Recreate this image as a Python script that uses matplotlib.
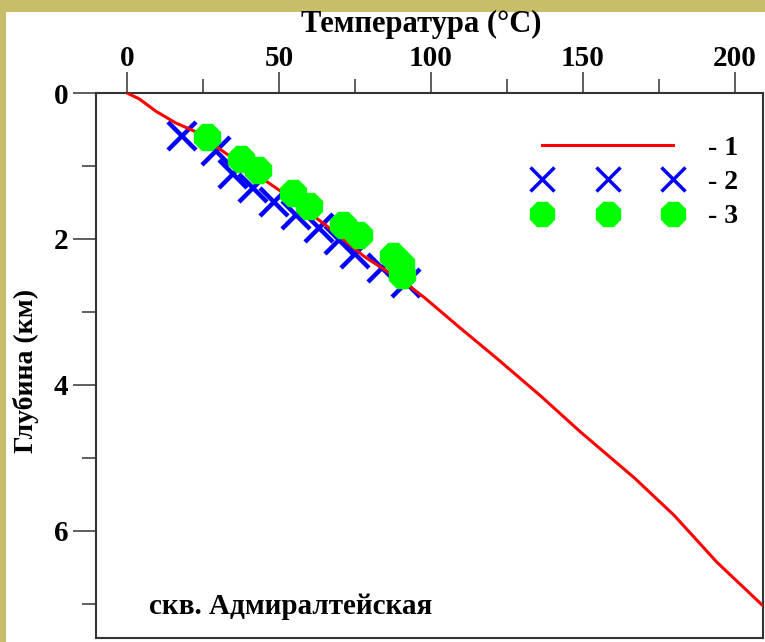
import matplotlib.pyplot as plt
from matplotlib.lines import Line2D
from matplotlib.patches import Rectangle

plt.rcParams["font.family"] = ["Liberation Serif", "DejaVu Serif"]
plt.rcParams["font.weight"] = "bold"

# model geotherm (1)
curve_t = [0, 4, 9.5, 16, 22, 35, 50, 65, 78, 92, 98, 109, 122, 136, 149, 167, 180, 194, 210, 214]
curve_d = [0, 0.08, 0.25, 0.41, 0.52, 0.9, 1.33, 1.8, 2.24, 2.62, 2.81, 3.2, 3.65, 4.15, 4.64, 5.28, 5.79, 6.43, 7.06, 7.2]

# measured temperatures (2)
meas_t = [18.0, 29.4, 35.0, 41.6, 48.3, 55.6, 63.3, 69.7, 75.1, 84.0, 91.9]
meas_d = [0.59, 0.80, 1.11, 1.30, 1.50, 1.67, 1.85, 2.02, 2.20, 2.40, 2.60]

# corrected temperatures (3)
corr_t = [26.4, 37.4, 43.2, 54.5, 60.0, 71.2, 76.4, 87.6, 90.0, 90.4]
corr_d = [0.60, 0.91, 1.05, 1.37, 1.55, 1.81, 1.95, 2.23, 2.34, 2.49]

W, H = 765, 642
fig = plt.figure(figsize=(W / 100, H / 100), dpi=100)
fig.patch.set_facecolor("#C8BD69")
fig.patches.append(Rectangle((6 / W, 0), 1, 1 - 12 / H, transform=fig.transFigure,
                             facecolor="white", edgecolor="none", zorder=-10))

ax = fig.add_axes([96 / W, 1 - 638 / H, 667 / W, 545 / H])
ax.set_zorder(1)
ax.set_facecolor("white")

ax.plot(meas_t, meas_d, linestyle="none", marker="x", ms=20, mew=3.2, color="#0000FF", zorder=2)
ax.plot(curve_t, curve_d, color="#FF0000", lw=2.2, zorder=3)
ax.plot(corr_t, corr_d, linestyle="none", marker="8", ms=20, color="#00FF00", mec="#00FF00", zorder=4)

ax.set_xlim(-10.2, 209.2)
ax.set_ylim(7.47, 0)
ax.set_xticks([0, 50, 100, 150, 200])
ax.set_xticks([25, 75, 125, 175], minor=True)
ax.set_yticks([0, 2, 4, 6])
ax.set_yticks([1, 3, 5, 7], minor=True)

ax.xaxis.tick_top()
ax.tick_params(axis="x", which="both", top=True, bottom=False, direction="out",
               labelsize=21, pad=0, width=1.1, color="#333333")
ax.tick_params(axis="x", which="major", length=15)
ax.tick_params(axis="x", which="minor", length=10)
ax.tick_params(axis="y", which="both", left=True, direction="out",
               labelsize=21, pad=3.5, width=1.1, color="#333333")
ax.tick_params(axis="y", which="major", length=16.5)
ax.tick_params(axis="y", which="minor", length=10)
for s in ax.spines.values():
    s.set_linewidth(1.5)
    s.set_color("#333333")

ax.set_xlabel("Температура (°С)", fontsize=22, fontweight="bold")
ax.xaxis.set_label_position("top")
ax.xaxis.set_label_coords(0.487, 1.112)
ax.set_ylabel("Глубина (км)", fontsize=20, fontweight="bold")
ax.yaxis.set_label_coords(-0.085, 0.49)

ax.text(0.08, 0.058, "скв. Адмиралтейская", transform=ax.transAxes,
        fontsize=21, fontweight="bold", va="center", ha="left")

handles = [
    Line2D([], [], color="#FF0000", lw=2.2),
    Line2D([], [], linestyle="none", marker="x", ms=17, mew=2.5, color="#0000FF"),
    Line2D([], [], linestyle="none", marker="8", ms=18, color="#00FF00", mec="#00FF00"),
]
ax.legend(handles, ["- 1", "- 2", "- 3"], loc="upper left", bbox_to_anchor=(0.64, 0.943),
          frameon=False, numpoints=3, handlelength=5.3, handletextpad=0.95,
          labelspacing=0.32, borderaxespad=0, prop={"size": 20, "weight": "bold"})

fig.savefig("out.png", dpi=100, facecolor=fig.get_facecolor())
